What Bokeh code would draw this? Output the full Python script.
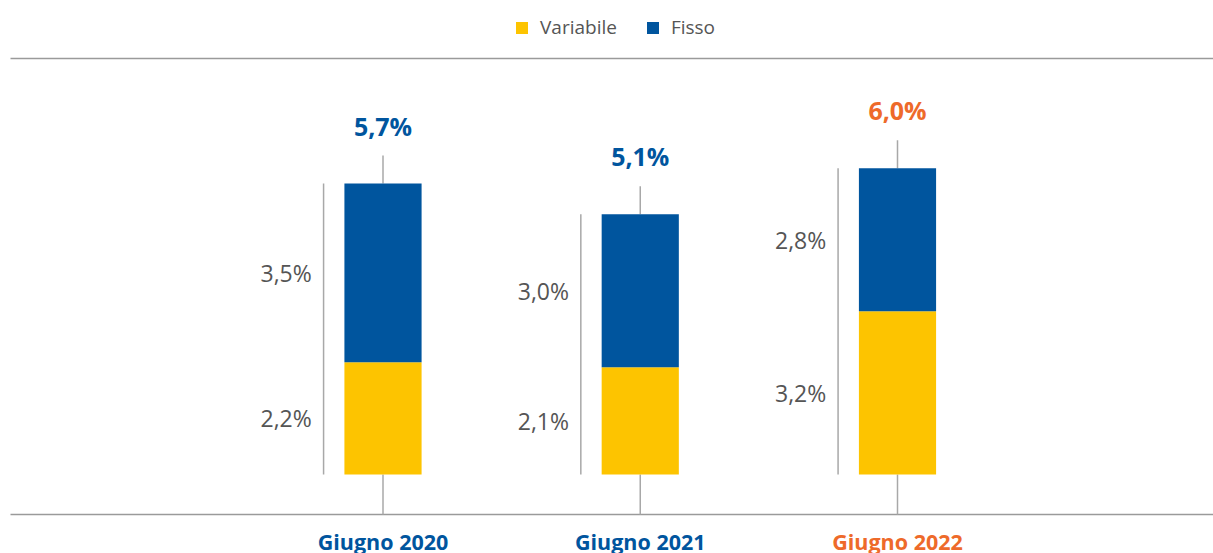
from bokeh.plotting import figure
from bokeh.models import ColumnDataSource, Range1d
from bokeh.embed import file_html
from bokeh.resources import INLINE
from bokeh.core.properties import value

# ---- data ----
categories = ["Giugno 2020", "Giugno 2021", "Giugno 2022"]
variabile = [2.2, 2.1, 3.2]
fisso = [3.5, 3.0, 2.8]
totale = [5.7, 5.1, 6.0]
variabile_labels = ["2,2%", "2,1%", "3,2%"]
fisso_labels = ["3,5%", "3,0%", "2,8%"]
totale_labels = ["5,7%", "5,1%", "6,0%"]
highlight = [False, False, True]

YELLOW = "#FDC400"
BLUE = "#00559E"
ORANGE = "#EE6A2A"
GRAY_TXT = "#555555"
GRAY_LINE = "#A8A8A8"
FONT = "Open Sans"

W, H = 1213, 553
PX_PER_UNIT = 51.05
PX_PER_CAT = 257.25
X_START = -382.5 / PX_PER_CAT
Y_END = 474 / PX_PER_UNIT
axis_y = -40 / PX_PER_UNIT
top_line_y = Y_END - 58 / PX_PER_UNIT
x_end = X_START + W / PX_PER_CAT
y_start = Y_END - H / PX_PER_UNIT

xs = list(range(len(categories)))
cat_colors = [ORANGE if h else BLUE for h in highlight]
src = ColumnDataSource(dict(
    x=xs, variabile=variabile, fisso=fisso, totale=totale,
    zero=[0] * len(xs),
    var_mid=[v / 2 for v in variabile],
    fis_mid=[v + f / 2 for v, f in zip(variabile, fisso)],
    var_lab=variabile_labels, fis_lab=fisso_labels, tot_lab=totale_labels,
    cat=categories, cat_color=cat_colors,
    left_x=[x - 0.231 for x in xs],
    lab_x=[x - 0.277 for x in xs],
    stem_top=[t + 28 / PX_PER_UNIT for t in totale],
    axis_y=[axis_y] * len(xs),
))

p = figure(width=W, height=H,
           x_range=Range1d(X_START, x_end), y_range=Range1d(y_start, Y_END),
           output_backend="svg", toolbar_location=None, min_border=0)
p.axis.visible = False
p.grid.visible = False
p.outline_line_color = None
p.background_fill_color = "white"
p.border_fill_color = "white"

# horizontal rules
rule_x0 = X_START + 10 / PX_PER_CAT
p.segment(x0=[rule_x0, rule_x0], y0=[top_line_y, axis_y], x1=[x_end, x_end], y1=[top_line_y, axis_y],
          line_color="#9A9A9A", line_width=1.5)

# stems
p.segment(x0="x", y0="totale", x1="x", y1="stem_top", source=src, line_color=GRAY_LINE, line_width=1.5)
p.segment(x0="x", y0="zero", x1="x", y1="axis_y", source=src, line_color=GRAY_LINE, line_width=1.5)
p.segment(x0="left_x", y0="zero", x1="left_x", y1="totale", source=src, line_color=GRAY_LINE, line_width=1.5)

# bars
p.vbar_stack(["variabile", "fisso"], x="x", width=0.3, color=[YELLOW, BLUE],
             line_width=0, source=src, legend_label=["Variabile", "Fisso"])

# segment labels
p.text(x="lab_x", y="var_mid", text="var_lab", source=src, text_align="right",
       text_baseline="middle", text_font=value(FONT), text_font_size="23px", text_color=GRAY_TXT)
p.text(x="lab_x", y="fis_mid", text="fis_lab", source=src, text_align="right",
       text_baseline="middle", text_font=value(FONT), text_font_size="23px", text_color=GRAY_TXT)

# totals
p.text(x="x", y="totale", text="tot_lab", source=src, text_align="center",
       text_baseline="middle", y_offset=-58, text_font=value(FONT), text_font_size="25px",
       text_font_style="bold", text_color="cat_color")

# category labels
p.text(x="x", y="axis_y", text="cat", source=src, text_align="center",
       text_baseline="top", y_offset=12, text_font=value(FONT), text_font_size="21.5px",
       text_font_style="bold", text_color="cat_color")

# legend
lg = p.legend[0]
lg.orientation = "horizontal"
lg.location = (514, 513)
lg.padding = 0
lg.margin = 0
lg.spacing = 28
lg.border_line_color = None
lg.background_fill_alpha = 0
lg.glyph_width = 15
lg.glyph_height = 15
lg.label_height = 15
lg.label_standoff = 11
lg.label_text_font = FONT
lg.label_text_font_size = "19px"
lg.label_text_color = GRAY_TXT
lg.label_text_baseline = "middle"

open("out.html", "w").write(file_html(p, INLINE))
